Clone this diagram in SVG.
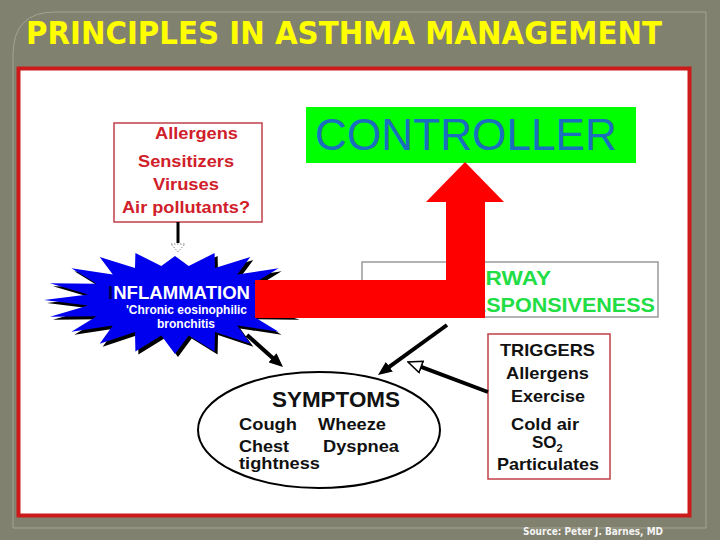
<svg xmlns="http://www.w3.org/2000/svg" width="720" height="540" viewBox="0 0 720 540">
<style>
.b{font-family:"Liberation Sans",Arial,sans-serif;font-weight:bold}
.red{fill:#d0202a}
.blk{fill:#111}
.wht{fill:#fff}
.grn{fill:#22dd44}
.conn{stroke:#000;stroke-width:4;fill:none}
</style>
<defs>
<marker id="ah" viewBox="0 0 14 12" refX="4" refY="6" markerWidth="14" markerHeight="12" markerUnits="userSpaceOnUse" orient="auto"><path d="M0,0 L14,6 L0,12 Z" fill="#000"/></marker>
<marker id="ahh" viewBox="0 0 16 14" refX="1" refY="7" markerWidth="16" markerHeight="14" markerUnits="userSpaceOnUse" orient="auto"><path d="M1,1 L15,7 L1,13 Z" fill="#fff" stroke="#000" stroke-width="1.6"/></marker>
</defs>
<rect width="720" height="540" fill="#81816f"/>
<path d="M13,528 V55 Q13,12 55,12 H706 V528 Z" fill="none" stroke="#a4a492" stroke-width="1"/>
<text x="26" y="44" font-family="'DejaVu Sans Condensed','DejaVu Sans',sans-serif" font-weight="bold" font-size="32" fill="#ffff00" textLength="636" lengthAdjust="spacingAndGlyphs">PRINCIPLES IN ASTHMA MANAGEMENT</text>
<rect x="18.5" y="68.5" width="671" height="447" fill="#fff" stroke="#cc1a1a" stroke-width="4"/>

<g id="allergens">
<rect x="114" y="123" width="148" height="99" fill="#fff" stroke="#c04048" stroke-width="1.5"/>
<text class="b red" x="155" y="139" font-size="17" textLength="83" lengthAdjust="spacingAndGlyphs">Allergens</text>
<text class="b red" x="138" y="167" font-size="17" textLength="96" lengthAdjust="spacingAndGlyphs">Sensitizers</text>
<text class="b red" x="153" y="190" font-size="17" textLength="66" lengthAdjust="spacingAndGlyphs">Viruses</text>
<text class="b red" x="122" y="213" font-size="17" textLength="128" lengthAdjust="spacingAndGlyphs">Air pollutants?</text>
</g>

<g id="airway">
<rect x="362" y="262" width="296" height="55" fill="#fff" stroke="#9a9a9a" stroke-width="1.5"/>
<text class="b grn" x="463" y="285" font-size="21" textLength="88" lengthAdjust="spacingAndGlyphs">AIRWAY</text>
<text class="b grn" x="382" y="312" font-size="21" textLength="273" lengthAdjust="spacingAndGlyphs">HYPERRESPONSIVENESS</text>
</g>

<g id="inflammation">
<polygon transform="translate(3,3)" fill="#000" points="303,300 261.9,305.6 296.7,316.7 253.4,316.3 278.6,331.8 237.2,325.5 250.3,343.7 215,332.1 214.6,351.4 188.7,335.6 175,354 161.3,335.6 135.4,351.4 135,332.1 99.7,343.7 112.8,325.5 71.4,331.8 96.6,316.3 50,316.7 88.1,305.6 44,300 88.1,294.4 50,283.3 96.6,283.7 71.4,268.2 112.8,274.5 99.7,257 135,267.9 135.4,253 161.3,266 175,256 188.7,266 214.6,253 215,267.9 250.3,257 237.2,274.5 278.6,268.2 253.4,283.7 296.7,283.3 261.9,294.4"/>
<polygon fill="#0000ee" points="303,300 261.9,305.6 296.7,316.7 253.4,316.3 278.6,331.8 237.2,325.5 250.3,343.7 215,332.1 214.6,351.4 188.7,335.6 175,354 161.3,335.6 135.4,351.4 135,332.1 99.7,343.7 112.8,325.5 71.4,331.8 96.6,316.3 50,316.7 88.1,305.6 44,300 88.1,294.4 50,283.3 96.6,283.7 71.4,268.2 112.8,274.5 99.7,257 135,267.9 135.4,253 161.3,266 175,256 188.7,266 214.6,253 215,267.9 250.3,257 237.2,274.5 278.6,268.2 253.4,283.7 296.7,283.3 261.9,294.4"/>
<text class="b wht" x="108" y="299" font-size="18" textLength="142" lengthAdjust="spacingAndGlyphs"><tspan fill="#000050">I</tspan>NFLAMMATION</text>
<text class="b wht" x="126" y="314" font-size="12" textLength="121" lengthAdjust="spacingAndGlyphs">'Chronic eosinophilic</text>
<text class="b wht" x="157" y="328" font-size="12" textLength="58" lengthAdjust="spacingAndGlyphs">bronchitis</text>
</g>

<g id="controller">
<rect x="306" y="107" width="330" height="56" fill="#00ff00"/>
<text x="315" y="150" font-family="'Liberation Sans',Arial,sans-serif" font-size="44" fill="#1a6ebd" textLength="302" lengthAdjust="spacingAndGlyphs">CONTROLLER</text>
</g>

<g id="symptoms">
<ellipse cx="319" cy="430" rx="121" ry="58" fill="#fff" stroke="#000" stroke-width="2"/>
<text class="b blk" x="272" y="407" font-size="22" textLength="128" lengthAdjust="spacingAndGlyphs">SYMPTOMS</text>
<text class="b blk" x="239" y="430" font-size="17" textLength="58" lengthAdjust="spacingAndGlyphs">Cough</text>
<text class="b blk" x="318" y="430" font-size="17" textLength="68" lengthAdjust="spacingAndGlyphs">Wheeze</text>
<text class="b blk" x="239" y="452" font-size="16" textLength="50" lengthAdjust="spacingAndGlyphs">Chest</text>
<text class="b blk" x="323" y="452" font-size="16" textLength="76" lengthAdjust="spacingAndGlyphs">Dyspnea</text>
<text class="b blk" x="239" y="469" font-size="16" textLength="81" lengthAdjust="spacingAndGlyphs">tightness</text>
</g>

<g id="triggers">
<rect x="488" y="334" width="122" height="145" fill="#fff" stroke="#c04048" stroke-width="1.5"/>
<text class="b blk" x="500" y="356" font-size="17" textLength="95" lengthAdjust="spacingAndGlyphs">TRIGGERS</text>
<text class="b blk" x="506" y="379" font-size="17" textLength="83" lengthAdjust="spacingAndGlyphs">Allergens</text>
<text class="b blk" x="511" y="402" font-size="17" textLength="74" lengthAdjust="spacingAndGlyphs">Exercise</text>
<text class="b blk" x="511" y="430" font-size="17" textLength="68" lengthAdjust="spacingAndGlyphs">Cold air</text>
<text class="b blk" x="532" y="448" font-size="17">SO<tspan font-size="11" dy="4">2</tspan></text>
<text class="b blk" x="497" y="470" font-size="17" textLength="102" lengthAdjust="spacingAndGlyphs">Particulates</text>
</g>

<g id="connectors">
<line x1="178" y1="222" x2="178" y2="243" stroke="#000" stroke-width="3"/>
<polygon points="171,244 185,244 178,252" fill="#fff" stroke="#888" stroke-width="1" stroke-dasharray="1.5,1.5"/>
<polygon points="255,280 446,280 446,202 426,202 465,162 504,202 485,202 485,318 255,318" fill="#ff0000"/>
<line class="conn" x1="247" y1="335" x2="275.5" y2="360.4" marker-end="url(#ah)"/>
<line class="conn" x1="447" y1="325" x2="386.1" y2="369.1" marker-end="url(#ah)"/>
<line class="conn" x1="488" y1="392" x2="421.1" y2="366.9" marker-end="url(#ahh)"/>
</g>

<text x="523" y="535" font-family="'DejaVu Sans',sans-serif" font-weight="bold" font-size="10" fill="#f4f4f4" textLength="140" lengthAdjust="spacingAndGlyphs">Source: Peter J. Barnes, MD</text>
</svg>
